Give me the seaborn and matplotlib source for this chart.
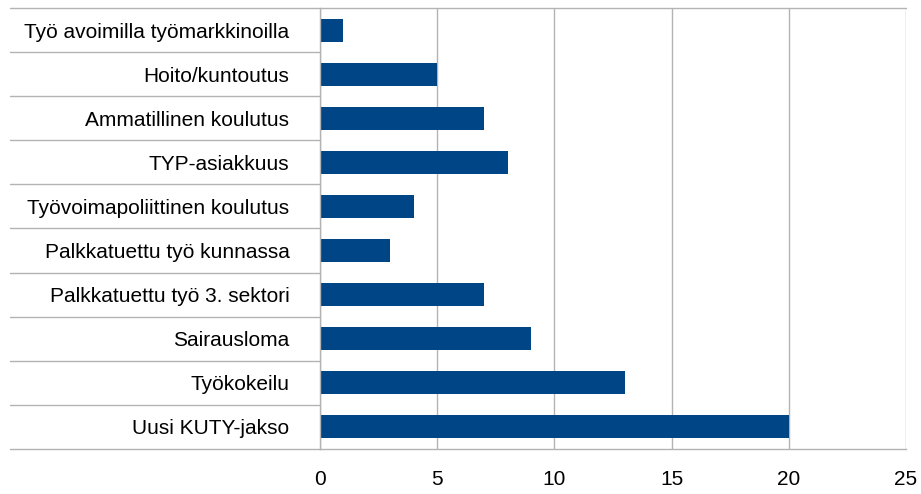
import matplotlib
matplotlib.use("Agg")
import matplotlib.pyplot as plt
import seaborn as sns
import pandas as pd

categories = ["Työ avoimilla työmarkkinoilla", "Hoito/kuntoutus", "Ammatillinen koulutus",
              "TYP-asiakkuus", "Työvoimapoliittinen koulutus", "Palkkatuettu työ kunnassa",
              "Palkkatuettu työ 3. sektori", "Sairausloma", "Työkokeilu", "Uusi KUTY-jakso"]
values = [1, 5, 7, 8, 4, 3, 7, 9, 13, 20]
xticks = [0, 5, 10, 15, 20, 25]

sns.set_theme(style="white")
plt.rcParams['font.family'] = ['Liberation Sans', 'DejaVu Sans']

df = pd.DataFrame({"cat": categories, "val": values})
fig = plt.figure(figsize=(9.21, 4.94), dpi=100)
ax = fig.add_axes([320/921, 1-449/494, 586/921, 441/494])
sns.barplot(data=df, y="cat", x="val", orient="h", color="#004586", saturation=1,
            width=0.52, linewidth=0, ax=ax)
ax.set_xlim(0, 25)
ax.set_ylim(len(categories)-0.5, -0.5)
ax.set_xticks(xticks)
ax.set_xlabel("")
ax.set_ylabel("")
grid_c = "#b3b3b3"
ax.grid(axis="x", color=grid_c, linewidth=1)
ax.set_axisbelow(True)
for s in ["top", "right"]:
    ax.spines[s].set_visible(False)
ax.spines["left"].set_color(grid_c)
ax.spines["bottom"].set_color(grid_c)
ax.spines["left"].set_linewidth(1)
ax.spines["bottom"].set_linewidth(1)
ax.tick_params(axis="x", length=7, color=grid_c, width=1, pad=8, labelsize=15, labelcolor="black")
ax.tick_params(axis="y", length=0, pad=22, labelsize=15, labelcolor="black")
# category separator lines extending into the label area
xs = -310/586
for i in range(len(categories)+1):
    yv = i - 0.5
    ax.plot([xs, 1 if i == 0 else 0], [yv, yv], transform=ax.get_yaxis_transform(),
            color=grid_c, linewidth=1, clip_on=False, zorder=0)
fig.savefig("out.png", dpi=100)
